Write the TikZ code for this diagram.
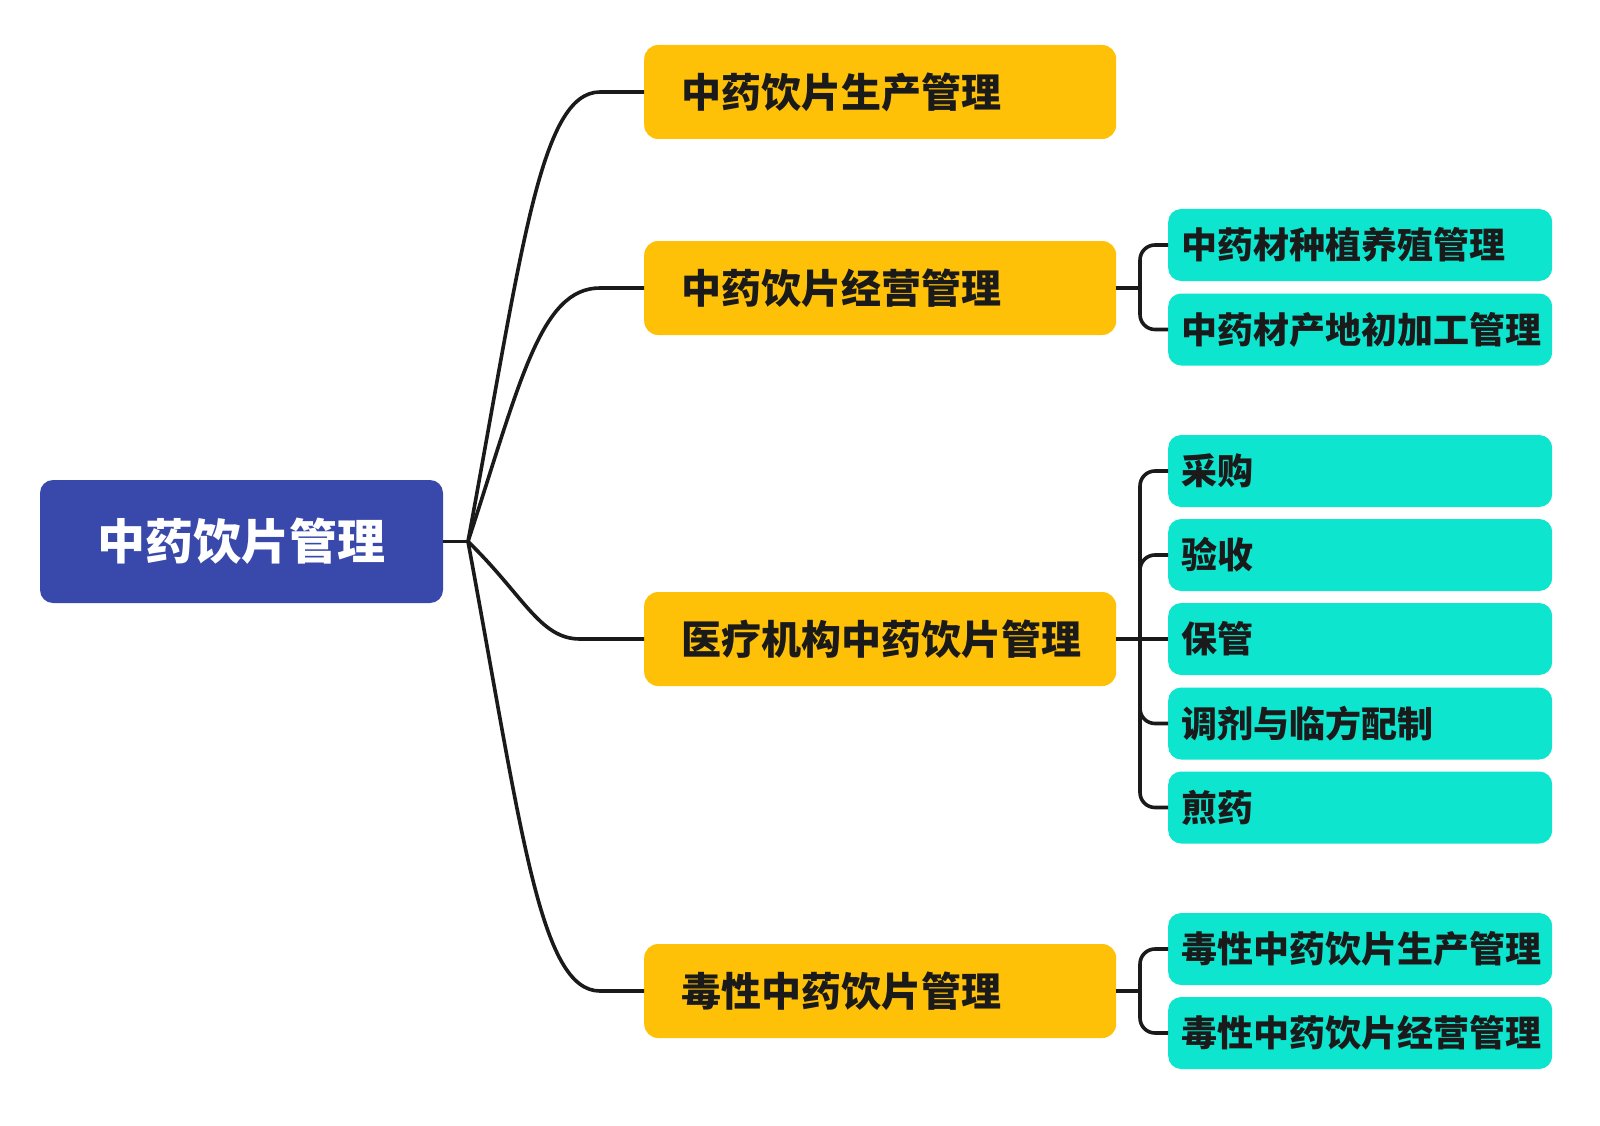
\documentclass[tikz,border=0pt]{standalone}
\usepackage{fontspec}
\setmainfont{Noto Sans CJK SC}
\definecolor{rootblue}{HTML}{3949AB}
\definecolor{amber}{HTML}{FFC107}
\definecolor{aqua}{HTML}{0DE5CF}
\definecolor{ink}{HTML}{1A1A1A}
\tikzset{
  rootbox/.style={fill=rootblue, rounded corners=13pt, minimum width=403pt, minimum height=123pt,
    inner sep=0pt, text=white, font=\fontsize{48}{56}\selectfont\bfseries, text height=39.8pt, text depth=3.4pt},
  levelone/.style={fill=amber, rounded corners=14pt, anchor=west, minimum height=94pt,
    inner xsep=37pt, inner ysep=0pt, text width=398pt, align=left, text=ink,
    font=\fontsize{40}{48}\selectfont\bfseries, text height=33.2pt, text depth=2.8pt},
  leveltwo/.style={fill=aqua, rounded corners=13pt, anchor=west, minimum height=72pt,
    inner xsep=13.5pt, inner ysep=0pt, text width=357pt, align=left, text=ink,
    font=\fontsize{36}{44}\selectfont\bfseries, text height=29.9pt, text depth=2.5pt},
  conn/.style={draw=ink, line width=3.6pt},
}
\begin{document}
\begin{tikzpicture}[x=1pt,y=-1pt]
\useasboundingbox[fill=white] (0,0) rectangle (1600,1126);
% root
\node[rootbox] (root) at (241.5,541.5) {中药饮片管理};
% level one
\node[levelone] (y1) at (644,92) {中药饮片生产管理};
\node[levelone] (y2) at (644,288) {中药饮片经营管理};
\node[levelone] (y3) at (644,639) {医疗机构中药饮片管理};
\node[levelone] (y4) at (644,991) {毒性中药饮片管理};
% level two
\node[leveltwo] (c21) at (1168,245) {中药材种植养殖管理};
\node[leveltwo] (c22) at (1168,329.5) {中药材产地初加工管理};
\node[leveltwo] (c31) at (1168,471) {采购};
\node[leveltwo] (c32) at (1168,555) {验收};
\node[leveltwo] (c33) at (1168,639) {保管};
\node[leveltwo] (c34) at (1168,723.5) {调剂与临方配制};
\node[leveltwo] (c35) at (1168,807.5) {煎药};
\node[leveltwo] (c41) at (1168,949) {毒性中药饮片生产管理};
\node[leveltwo] (c42) at (1168,1033) {毒性中药饮片经营管理};
% hub and junctions
\coordinate (hub) at (468,541.5);
\coordinate (j2) at (1140,288);
\coordinate (j3) at (1140,639);
\coordinate (j4) at (1140,991);
% root connectors
\draw[conn] (root.east) -- (hub);
\draw[conn] (hub) .. controls (522,250) and (540,92) .. (600,92) -- (y1.west);
\draw[conn] (hub) .. controls (520,383) and (540,288) .. (600,288) -- (y2.west);
\draw[conn] (hub) .. controls (524,596) and (540,639) .. (580,639) -- (y3.west);
\draw[conn] (hub) .. controls (522,833) and (540,991) .. (600,991) -- (y4.west);
% group connectors
\draw[conn] (y2.east) -- (j2);
\draw[conn, rounded corners=15pt] (j2) |- (c21.west);
\draw[conn, rounded corners=15pt] (j2) |- (c22.west);
\draw[conn] (y3.east) -- (j3);
\draw[conn, rounded corners=15pt] (j3) |- (c31.west);
\draw[conn, rounded corners=15pt] (j3) |- (c32.west);
\draw[conn] (j3) -- (c33.west);
\draw[conn, rounded corners=15pt] (j3) |- (c34.west);
\draw[conn, rounded corners=15pt] (j3) |- (c35.west);
\draw[conn] (y4.east) -- (j4);
\draw[conn, rounded corners=15pt] (j4) |- (c41.west);
\draw[conn, rounded corners=15pt] (j4) |- (c42.west);
\end{tikzpicture}
\end{document}
